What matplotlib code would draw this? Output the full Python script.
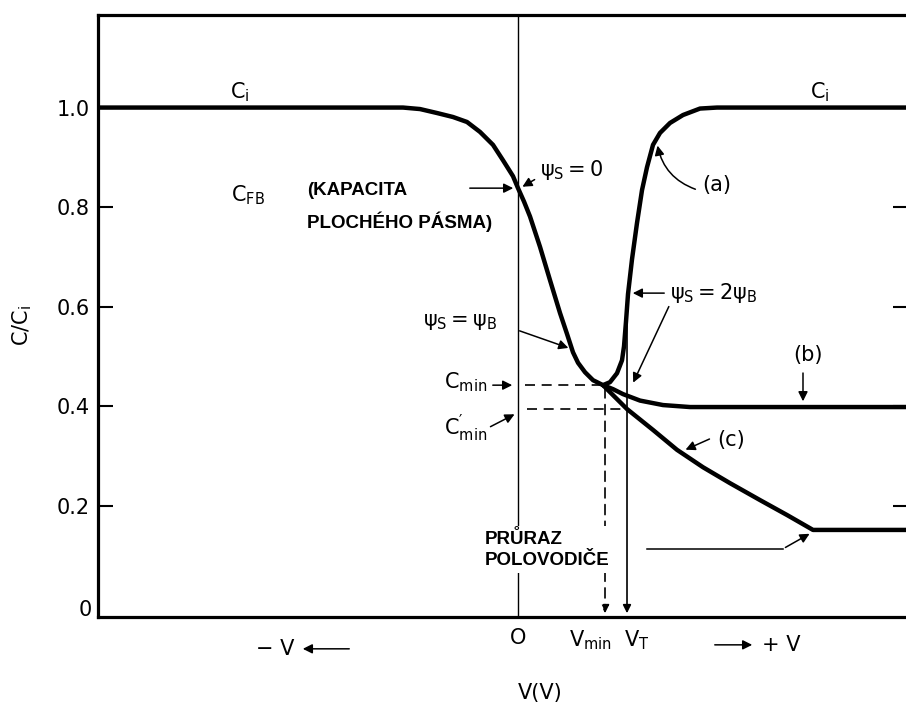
import matplotlib
matplotlib.use('Agg')
import matplotlib.pyplot as plt

plt.rcParams['font.family'] = ['DejaVu Sans']
plt.rcParams['mathtext.default'] = 'regular'

# low-frequency branch, left side (accumulation -> depletion), ends at Cmin
v_left = [-4.2, -1.15, -0.98, -0.81, -0.65, -0.51, -0.38, -0.25, -0.15, -0.05, 0.0,
          0.06, 0.12, 0.22, 0.32, 0.42, 0.49, 0.55, 0.6, 0.67, 0.75, 0.85]
c_left = [1.0, 1.0, 0.997, 0.989, 0.981, 0.971, 0.951, 0.925, 0.894, 0.862, 0.838,
          0.811, 0.781, 0.72, 0.653, 0.587, 0.545, 0.508, 0.487, 0.468, 0.452, 0.442]

# (a) low frequency, rising again in inversion
v_a = [0.85, 0.92, 0.99, 1.04, 1.06, 1.08, 1.10, 1.14, 1.19, 1.24, 1.29, 1.35, 1.42,
       1.52, 1.65, 1.82, 1.99, 3.9]
c_a = [0.442, 0.448, 0.466, 0.492, 0.52, 0.57, 0.625, 0.695, 0.768, 0.834, 0.88, 0.925, 0.949,
       0.969, 0.985, 0.998, 1.0, 1.0]

# (b) high frequency
v_b = [0.85, 0.95, 1.05, 1.22, 1.45, 1.72, 3.9]
c_b = [0.442, 0.434, 0.424, 0.411, 0.402, 0.398, 0.398]

# (c) deep depletion
v_c = [0.85, 1.09, 1.35, 1.59, 1.85, 2.12, 2.42, 2.69, 2.95, 3.9]
c_c = [0.442, 0.394, 0.352, 0.312, 0.277, 0.245, 0.211, 0.181, 0.151, 0.151]

v_min, v_t = 0.87, 1.09
c_min, c_min2 = 0.442, 0.394
yticks = [0.2, 0.4, 0.6, 0.8, 1.0]
ylabels = ['0.2', '0.4', '0.6', '0.8', '1.0']

fig = plt.figure(figsize=(9.06, 7.02), dpi=100)
ax = fig.add_axes([0.1082, 0.1211, 0.894, 0.8575])
ax.set_xlim(-4.2, 3.9)
ax.set_ylim(-0.024, 1.186)

lw = 3.2
for xs, ys in [(v_left, c_left), (v_a, c_a), (v_b, c_b), (v_c, c_c)]:
    ax.plot(xs, ys, color='k', lw=lw, solid_capstyle='round', solid_joinstyle='round')

# vertical line at V = 0
ax.plot([0, 0], [-0.024, 1.186], color='k', lw=1)

# dashed guides
dash = (0, (6, 4))
ax.plot([0.07, v_min], [c_min, c_min], color='k', lw=1.2, ls=dash)
ax.plot([0.09, v_t], [c_min2, c_min2], color='k', lw=1.2, ls=dash)
ax.annotate('', xy=(v_min, -0.022), xytext=(v_min, c_min),
            arrowprops=dict(arrowstyle='-|>', color='k', lw=1.2, ls=dash, mutation_scale=12))
ax.annotate('', xy=(v_t, -0.022), xytext=(v_t, 0.627),
            arrowprops=dict(arrowstyle='-|>', color='k', lw=1.2, mutation_scale=12))

arr = dict(arrowstyle='-|>', color='k', lw=1.1, mutation_scale=14)
fs = 15
bold = dict(fontsize=13.5, fontweight='bold',
            family=['Liberation Sans Narrow', 'Liberation Sans', 'DejaVu Sans'])

ax.text(-2.78, 1.031, '$C_i$', fontsize=fs, ha='center', va='center')
ax.text(3.02, 1.031, '$C_i$', fontsize=fs, ha='center', va='center')

ax.text(-2.7, 0.824, '$C_{FB}$', fontsize=fs, ha='center', va='center')
ax.text(-2.11, 0.834, '(KAPACITA', ha='left', va='center', **bold)
ax.text(-2.11, 0.77, 'PLOCHÉHO PÁSMA)', ha='left', va='center', **bold)
ax.annotate('', xy=(-0.02, 0.838), xytext=(-0.51, 0.838), arrowprops=arr)

ax.text(0.22, 0.874, r'$\psi_S = 0$', fontsize=fs, ha='left', va='center')
ax.annotate('', xy=(0.02, 0.838), xytext=(0.19, 0.858), arrowprops=arr)

ax.text(-0.95, 0.569, r'$\psi_S = \psi_B$', fontsize=fs, ha='left', va='center')
ax.annotate('', xy=(0.53, 0.515), xytext=(-0.01, 0.553), arrowprops=arr)

ax.text(-0.31, 0.448, '$C_{min}$', fontsize=fs, ha='right', va='center')
ax.annotate('', xy=(-0.03, c_min), xytext=(-0.28, c_min), arrowprops=arr)
ax.text(-0.31, 0.356, r'$C^{\prime}_{min}$', fontsize=fs, ha='right', va='center')
ax.annotate('', xy=(-0.01, 0.386), xytext=(-0.3, 0.356), arrowprops=arr)

ax.text(1.52, 0.627, r'$\psi_S = 2\psi_B$', fontsize=fs, ha='left', va='center')
ax.annotate('', xy=(1.12, 0.627), xytext=(1.49, 0.627), arrowprops=arr)
ax.annotate('', xy=(1.14, 0.442), xytext=(1.52, 0.605), arrowprops=arr)

ax.text(1.99, 0.844, '(a)', fontsize=fs, ha='center', va='center')
ax.annotate('', xy=(1.39, 0.929), xytext=(1.8, 0.834),
            arrowprops=dict(arr, connectionstyle='arc3,rad=-0.3'))

ax.text(2.9, 0.503, '(b)', fontsize=fs, ha='center', va='center')
ax.annotate('', xy=(2.85, 0.404), xytext=(2.85, 0.472), arrowprops=arr)

ax.text(1.99, 0.332, '(c)', fontsize=fs, ha='left', va='center')
ax.annotate('', xy=(1.65, 0.31), xytext=(1.94, 0.336), arrowprops=arr)

ax.text(-0.33, 0.112, 'PRŮRAZ\nPOLOVODIČE', ha='left', va='center', linespacing=1.3,
        bbox=dict(fc='white', ec='none', pad=3), **bold)
ax.plot([1.29, 2.65], [0.113, 0.113], color='k', lw=1.1)
ax.annotate('', xy=(2.94, 0.146), xytext=(2.65, 0.113), arrowprops=arr)

# zero label of the y axis, sits a bit lower than the others
ax.text(-0.008, -0.01, '0', transform=ax.get_yaxis_transform(), fontsize=fs, ha='right',
        va='center', clip_on=False)

# x axis labels
ax.text(0.0, -0.046, 'O', fontsize=fs, ha='center', va='top', clip_on=False)
ax.text(0.72, -0.046, '$V_{min}$', fontsize=fs, ha='center', va='top', clip_on=False)
ax.text(1.19, -0.046, '$V_T$', fontsize=fs, ha='center', va='top', clip_on=False)
ax.text(-2.43, -0.088, '− V', fontsize=fs, ha='center', va='center', clip_on=False)
ax.annotate('', xy=(-2.18, -0.088), xytext=(-1.66, -0.088), arrowprops=arr, annotation_clip=False)
ax.annotate('', xy=(2.37, -0.08), xytext=(1.94, -0.08), arrowprops=arr, annotation_clip=False)
ax.text(2.63, -0.08, '+ V', fontsize=fs, ha='center', va='center', clip_on=False)
ax.text(0.22, -0.177, 'V(V)', fontsize=fs, ha='center', va='center', clip_on=False)

fig.text(22 / 906, 1 - 325 / 702, '$C/C_i$', fontsize=fs, rotation=90, ha='center', va='center')

ax.set_xticks([])
ax.set_yticks(yticks)
ax.set_yticklabels(ylabels)
ax.tick_params(axis='y', direction='in', length=11, width=1.5, labelsize=fs, pad=6, right=True)
ax.spines['right'].set_visible(False)
for s in ['left', 'bottom', 'top']:
    ax.spines[s].set_linewidth(2.3)

fig.savefig('out.png', dpi=100)
